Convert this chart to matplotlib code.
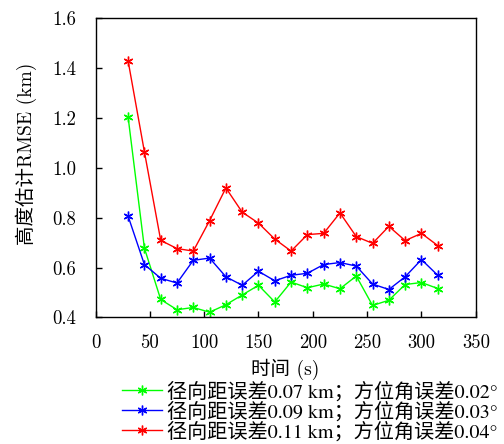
import matplotlib
matplotlib.use('Agg')
import matplotlib.pyplot as plt

plt.rcParams['font.family'] = ['cmr10', 'Noto Sans CJK SC', 'DejaVu Sans']
plt.rcParams['axes.unicode_minus'] = False

# time (s)
t = [30, 45, 60, 75, 90, 105, 120, 135, 150, 165,
     180, 195, 210, 225, 240, 255, 270, 285, 300, 315]

# height RMSE (km) for the three error settings
rmse_g = [1.203, 0.678, 0.472, 0.431, 0.440, 0.421, 0.451, 0.490, 0.529, 0.462,
          0.542, 0.519, 0.534, 0.515, 0.566, 0.448, 0.469, 0.532, 0.540, 0.516]
rmse_b = [0.806, 0.612, 0.557, 0.538, 0.629, 0.638, 0.563, 0.529, 0.585, 0.547,
          0.569, 0.577, 0.612, 0.620, 0.606, 0.534, 0.512, 0.563, 0.632, 0.569]
rmse_r = [1.428, 1.064, 0.709, 0.676, 0.666, 0.788, 0.919, 0.822, 0.778, 0.714,
          0.666, 0.732, 0.737, 0.819, 0.724, 0.697, 0.765, 0.708, 0.737, 0.688]

labels = ['径向距误差0.07 km；方位角误差0.02°',
          '径向距误差0.09 km；方位角误差0.03°',
          '径向距误差0.11 km；方位角误差0.04°']

fig = plt.figure(figsize=(5.04, 4.44), dpi=100)
ax = fig.add_axes([0.1895, 0.285, 0.7545, 0.6745])

ast = (6, 2, 0)  # asterisk marker
ax.plot(t, rmse_g, color='#00ff00', lw=1, marker=ast, ms=7, mew=1, label=labels[0])
ax.plot(t, rmse_b, color='#0000ff', lw=1, marker=ast, ms=7, mew=1, label=labels[1])
ax.plot(t, rmse_r, color='#ff0000', lw=1, marker=ast, ms=7, mew=1, label=labels[2])

ax.set_xlim(0, 350)
ax.set_ylim(0.4, 1.6)
ax.set_xticks(range(0, 351, 50))
ax.set_yticks([0.4, 0.6, 0.8, 1.0, 1.2, 1.4, 1.6])
ax.set_yticklabels(['0.4', '0.6', '0.8', '1.0', '1.2', '1.4', '1.6'])
ax.tick_params(direction='in', length=4, width=1, labelsize=13.5, pad=14)
ax.tick_params(axis='x', pad=12)
for s in ax.spines.values():
    s.set_linewidth(1)

ax.set_xlabel('时间 (s)', fontsize=14, labelpad=5)
ax.set_ylabel('高度估计RMSE (km)', fontsize=14)
ax.yaxis.set_label_coords(-0.155, 0.545)

# cmr10 has no proper degree sign, so the legend uses STIX for the latin part
fig.legend(loc='upper right', bbox_to_anchor=(0.988, 0.142),
           frameon=False, handlelength=2.0, handletextpad=0.25,
           labelspacing=-0.02, borderpad=0, borderaxespad=0,
           prop={'family': ['STIXGeneral', 'Noto Sans CJK SC'], 'size': 14.5})

fig.savefig('out.png', dpi=100)
